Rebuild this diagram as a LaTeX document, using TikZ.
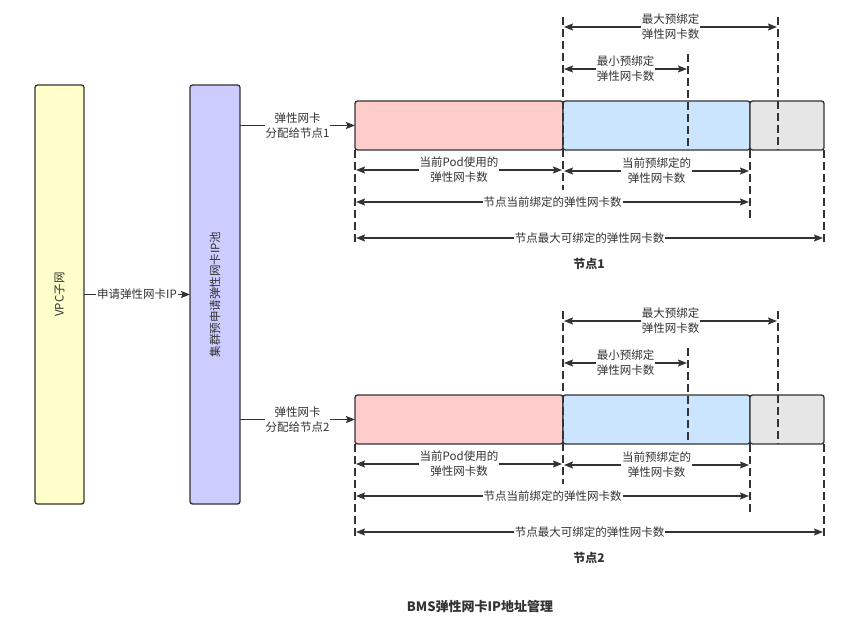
\documentclass[tikz,border=0pt]{standalone}
\usepackage{fontspec}
\setmainfont{Noto Sans CJK SC}
\usetikzlibrary{arrows.meta}
\definecolor{ink}{HTML}{333333}
\definecolor{usedred}{HTML}{FFCCCC}
\definecolor{preblue}{HTML}{CCE5FF}
\definecolor{freegrey}{HTML}{E6E6E6}
\definecolor{vpcyellow}{HTML}{FFFFCC}
\definecolor{poolviolet}{HTML}{CCCCFF}
\tikzset{
	box/.style={draw=ink, line width=1.3pt, rounded corners=2.5pt, inner sep=0pt, outer sep=0pt, anchor=north west},
	lbl/.style={fill=white, text=ink, align=center, inner sep=1pt, font=\fontsize{11.5}{15}\selectfont},
	dim/.style={ink, line width=1.1pt, {Stealth[length=9pt,width=7pt,inset=1.5pt]}-{Stealth[length=9pt,width=7pt,inset=1.5pt]}, shorten <=1pt, shorten >=1pt},
	flow/.style={ink, line width=1.1pt, -{Stealth[length=9pt,width=7pt,inset=1.5pt]}},
	guide/.style={ink, line width=1.1pt, dash pattern=on 8pt off 4pt}
}
\begin{document}
\begin{tikzpicture}[x=1pt, y=-1pt]
	\useasboundingbox (0,0) rectangle (855,635);
	
	\node[box, fill=vpcyellow, minimum width=49pt, minimum height=419pt,
	label={[lbl, fill=none, rotate=90]center:VPC子网}] (vpc) at (35,85) {};
	\node[box, fill=poolviolet, minimum width=50pt, minimum height=419pt,
	label={[lbl, fill=none, rotate=90]center:集群预申请弹性网卡IP池}] (pool) at (190,85) {};
	\draw[flow] (vpc) -- (pool) node[midway, lbl]{申请弹性网卡IP};
	
	\foreach \n/\dy in {1/0,2/294}{
		% bar of one node
		\node[box, fill=usedred, minimum width=208pt, minimum height=49pt] (used\n) at (355,101+\dy) {};
		\node[box, fill=preblue, minimum width=187pt, minimum height=49pt] (pre\n) at (used\n.north east) {};
		\node[box, fill=freegrey, minimum width=74pt, minimum height=49pt] (free\n) at (pre\n.north east) {};
		\coordinate (minmark\n) at ([xshift=125pt]pre\n.north west);
		\coordinate (maxmark\n) at ([xshift=215pt]pre\n.north west);
		
		\draw[flow] (pool.east |- used\n.west) -- (used\n.west) node[midway, lbl]{弹性网卡\\分配给节点\n};
		
		% guides
		\draw[guide] ([yshift=84pt]pre\n.north west) -- ([yshift=-40pt]pre\n.south west);
		\draw[guide] (used\n.south west) -- ([yshift=-95pt]used\n.south west);
		\draw[guide] (pre\n.south east) -- ([yshift=-68pt]pre\n.south east);
		\draw[guide] (free\n.south east) -- ([yshift=-93pt]free\n.south east);
		\draw[guide] ([yshift=84pt]maxmark\n) -- (maxmark\n |- free\n.south);
		\draw[guide] ([yshift=47pt]minmark\n) -- (minmark\n |- pre\n.south);
		
		% dimensions
		\draw[dim] ([yshift=74pt]pre\n.north west) -- ([yshift=74pt]maxmark\n) node[midway, lbl]{最大预绑定\\弹性网卡数};
		\draw[dim] ([yshift=32pt]pre\n.north west) -- ([yshift=32pt]minmark\n) node[midway, lbl]{最小预绑定\\弹性网卡数};
		\draw[dim] ([yshift=-20pt]used\n.south west) -- ([yshift=-20pt]used\n.south east) node[midway, lbl]{当前Pod使用的\\弹性网卡数};
		\draw[dim] ([yshift=-21pt]pre\n.south west) -- ([yshift=-21pt]pre\n.south east) node[midway, lbl]{当前预绑定的\\弹性网卡数};
		\draw[dim] ([yshift=-52pt]used\n.south west) -- ([yshift=-52pt]pre\n.south east) node[midway, lbl]{节点当前绑定的弹性网卡数};
		\draw[dim] ([yshift=-88pt]used\n.south west) -- ([yshift=-88pt]free\n.south east) node[midway, lbl]{节点最大可绑定的弹性网卡数};
		
		\node[text=ink, font=\fontsize{12}{14}\selectfont\bfseries] (cap\n) at (589,264+\dy) {节点\n};
	}
	
	\node[text=ink, font=\fontsize{13}{15}\selectfont\bfseries] (title) at (480,607) {BMS弹性网卡IP地址管理};
\end{tikzpicture}
\end{document}
